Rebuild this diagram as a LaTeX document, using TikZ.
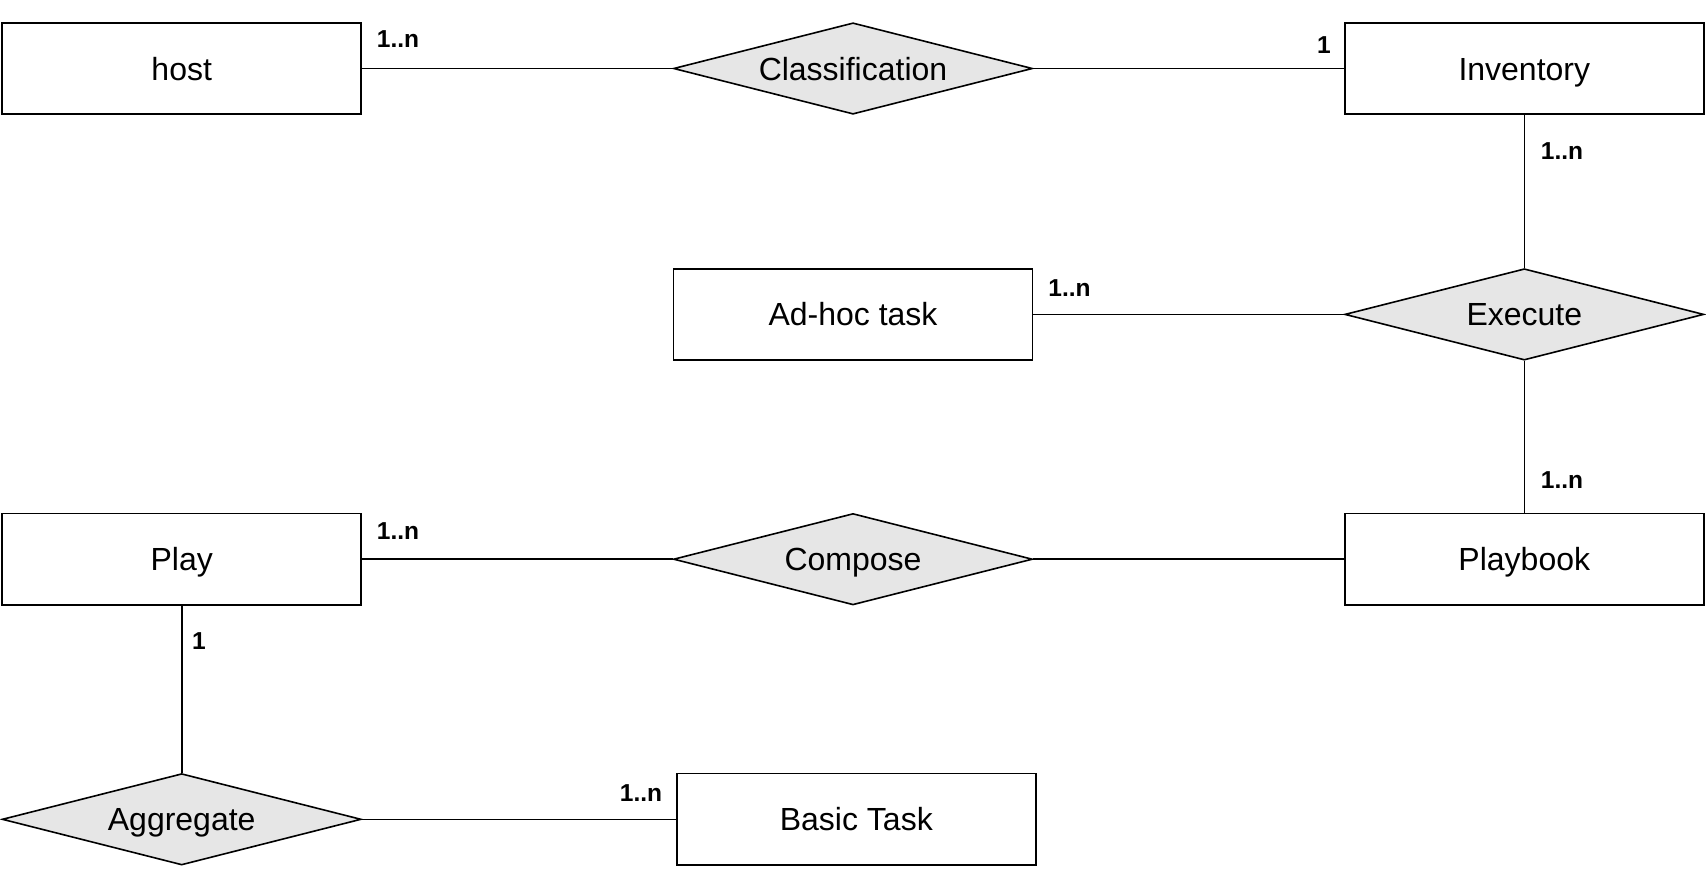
\documentclass[tikz,border=0pt]{standalone}
\usepackage{fontspec}
\setmainfont{Liberation Sans}
\usetikzlibrary{shapes.geometric}
\definecolor{relfill}{HTML}{E6E6E6}
\begin{document}
\begin{tikzpicture}[x=1pt,y=-1pt,
  every node/.style={font=\fontsize{32}{36}\selectfont},
  entity/.style={draw=black,line width=1.6pt,fill=white,minimum width=359pt,minimum height=91.4pt,inner sep=0pt,text height=23pt,text depth=0pt},
  relation/.style={draw=black,line width=1.6pt,fill=relfill,shape=diamond,aspect=3.93,minimum width=359pt,minimum height=91.4pt,inner sep=0pt,text height=23pt,text depth=0pt},
  card/.style={font=\bfseries\fontsize{24.5}{28}\selectfont,inner sep=0pt},
  conn/.style={draw=black,line width=1.6pt}]
\useasboundingbox (0,0) rectangle (1706,868);
\node[entity] (host) at (181.7,68.5) {host};
\node[relation] (class) at (853,68.5) {Classification};
\node[entity] (inv) at (1524.3,68.5) {Inventory};
\node[entity] (adhoc) at (853,314.4) {Ad-hoc task};
\node[relation] (exec) at (1524.3,314.4) {Execute};
\node[entity] (play) at (181.7,559.2) {Play};
\node[relation] (comp) at (853,559.2) {Compose};
\node[entity] (pbook) at (1524.3,559.2) {Playbook};
\node[relation] (aggr) at (181.7,819.3) {Aggregate};
\node[entity] (basic) at (856.3,819.3) {Basic Task};

\draw[conn] (host.east) -- (class.west);
\draw[conn] (class.east) -- (inv.west);
\draw[conn] (inv.south) -- (exec.north);
\draw[conn] (adhoc.east) -- (exec.west);
\draw[conn] (exec.south) -- (pbook.north);
\draw[conn] (play.east) -- (comp.west);
\draw[conn] (comp.east) -- (pbook.west);
\draw[conn] (play.south) -- (aggr.north);
\draw[conn] (aggr.east) -- (basic.west);

\node[card] (c1) at (398,39) {1..n};
\node[card] (c2) at (1324,45) {1};
\node[card] (c3) at (1562,151) {1..n};
\node[card] (c4) at (1069.5,288) {1..n};
\node[card] (c5) at (1562,480) {1..n};
\node[card] (c6) at (398,531) {1..n};
\node[card] (c7) at (199,641) {1};
\node[card] (c8) at (641,793) {1..n};
\end{tikzpicture}
\end{document}
